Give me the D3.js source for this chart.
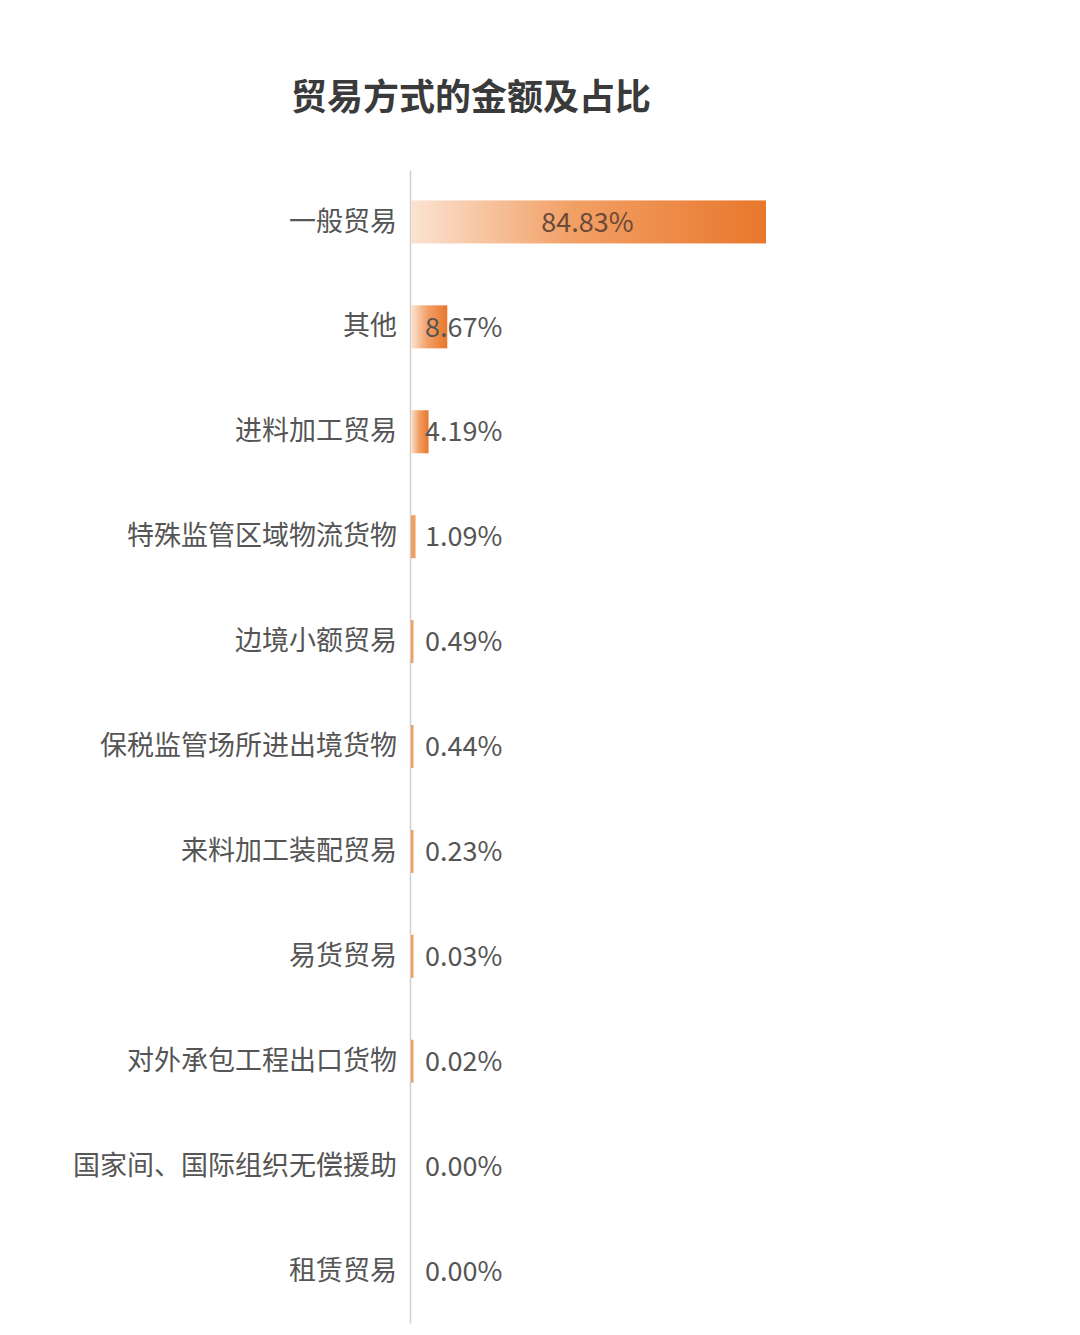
<!DOCTYPE html>
<html>
<head>
<meta charset="utf-8">
<script src="https://cdn.jsdelivr.net/npm/d3@7"></script>
<style>
  body { margin: 0; background: #fff; }
  text { font-family: "Noto Sans CJK SC", "Noto Sans", sans-serif; }
</style>
</head>
<body>
<script>
var width = 1080;
var height = 1335;

var categories = ['一般贸易', '其他', '进料加工贸易', '特殊监管区域物流货物', '边境小额贸易',
  '保税监管场所进出境货物', '来料加工装配贸易', '易货贸易', '对外承包工程出口货物',
  '国家间、国际组织无偿援助', '租赁贸易'];
var shares = [84.83, 8.67, 4.19, 1.09, 0.49, 0.44, 0.23, 0.03, 0.02, 0.00, 0.00];
var shareLabels = ['84.83%', '8.67%', '4.19%', '1.09%', '0.49%', '0.44%', '0.23%', '0.03%', '0.02%', '0.00%', '0.00%'];

var margin = {top: 170, left: 410, bottom: 12};

var svg = d3.select('body').append('svg').attr('width', width).attr('height', height);

var defs = svg.append('defs');
var grad = defs.append('linearGradient').attr('id', 'barGrad')
  .attr('x1', '0%').attr('x2', '100%').attr('y1', '0%').attr('y2', '0%');
grad.append('stop').attr('offset', '0%').attr('stop-color', '#fbe3d2');
grad.append('stop').attr('offset', '45%').attr('stop-color', '#f2a066');
grad.append('stop').attr('offset', '100%').attr('stop-color', '#e8772c');

// title
svg.append('text')
  .attr('x', 471).attr('y', 110)
  .attr('text-anchor', 'middle')
  .style('font-size', '36px').style('font-weight', 'bold').style('fill', '#3a3a3a')
  .text('贸易方式的金额及占比');

var x = d3.scaleLinear().domain([0, 84.83]).range([margin.left, 765]);
var y = d3.scaleBand().domain(categories)
  .range([margin.top, height - margin.bottom]).paddingInner(0.59).paddingOuter(0.29);

// axis line + category labels
var yAxis = d3.axisLeft(y).tickSize(0).tickPadding(13);
var ax = svg.append('g').attr('transform', 'translate(' + margin.left + ',0)').call(yAxis);
ax.select('.domain').attr('stroke', '#d0d0d0').attr('stroke-width', 1.5);
ax.selectAll('text')
  .style('font-family', '"Noto Sans CJK SC", sans-serif')
  .style('font-size', '27px').style('fill', '#555');

var rows = categories.map(function(c, i) {
  return {name: c, value: shares[i], label: shareLabels[i]};
});

svg.selectAll('rect.bar').data(rows.filter(function(d) { return d.value > 0; }))
  .enter().append('rect').attr('class', 'bar')
  .attr('x', x(0) + 1)
  .attr('y', function(d) { return y(d.name); })
  .attr('height', y.bandwidth())
  .attr('width', function(d) { return Math.max(2.5, x(d.value) - x(0)); })
  .style('fill', function(d) { return d.value > 2 ? 'url(#barGrad)' : '#ec8f4a'; })
  .style('opacity', function(d) { return d.value > 2 ? 1 : 0.85; });

svg.selectAll('text.val').data(rows).enter().append('text').attr('class', 'val')
  .attr('x', function(d, i) { return i === 0 ? (x(0) + x(d.value)) / 2 : x(0) + 15; })
  .attr('y', function(d) { return y(d.name) + y.bandwidth() / 2; })
  .attr('dy', '0.36em')
  .attr('text-anchor', function(d, i) { return i === 0 ? 'middle' : 'start'; })
  .style('font-size', '27px')
  .style('fill', function(d, i) { return i === 0 ? '#6b4a38' : '#555'; })
  .text(function(d) { return d.label; });
</script>
</body>
</html>
